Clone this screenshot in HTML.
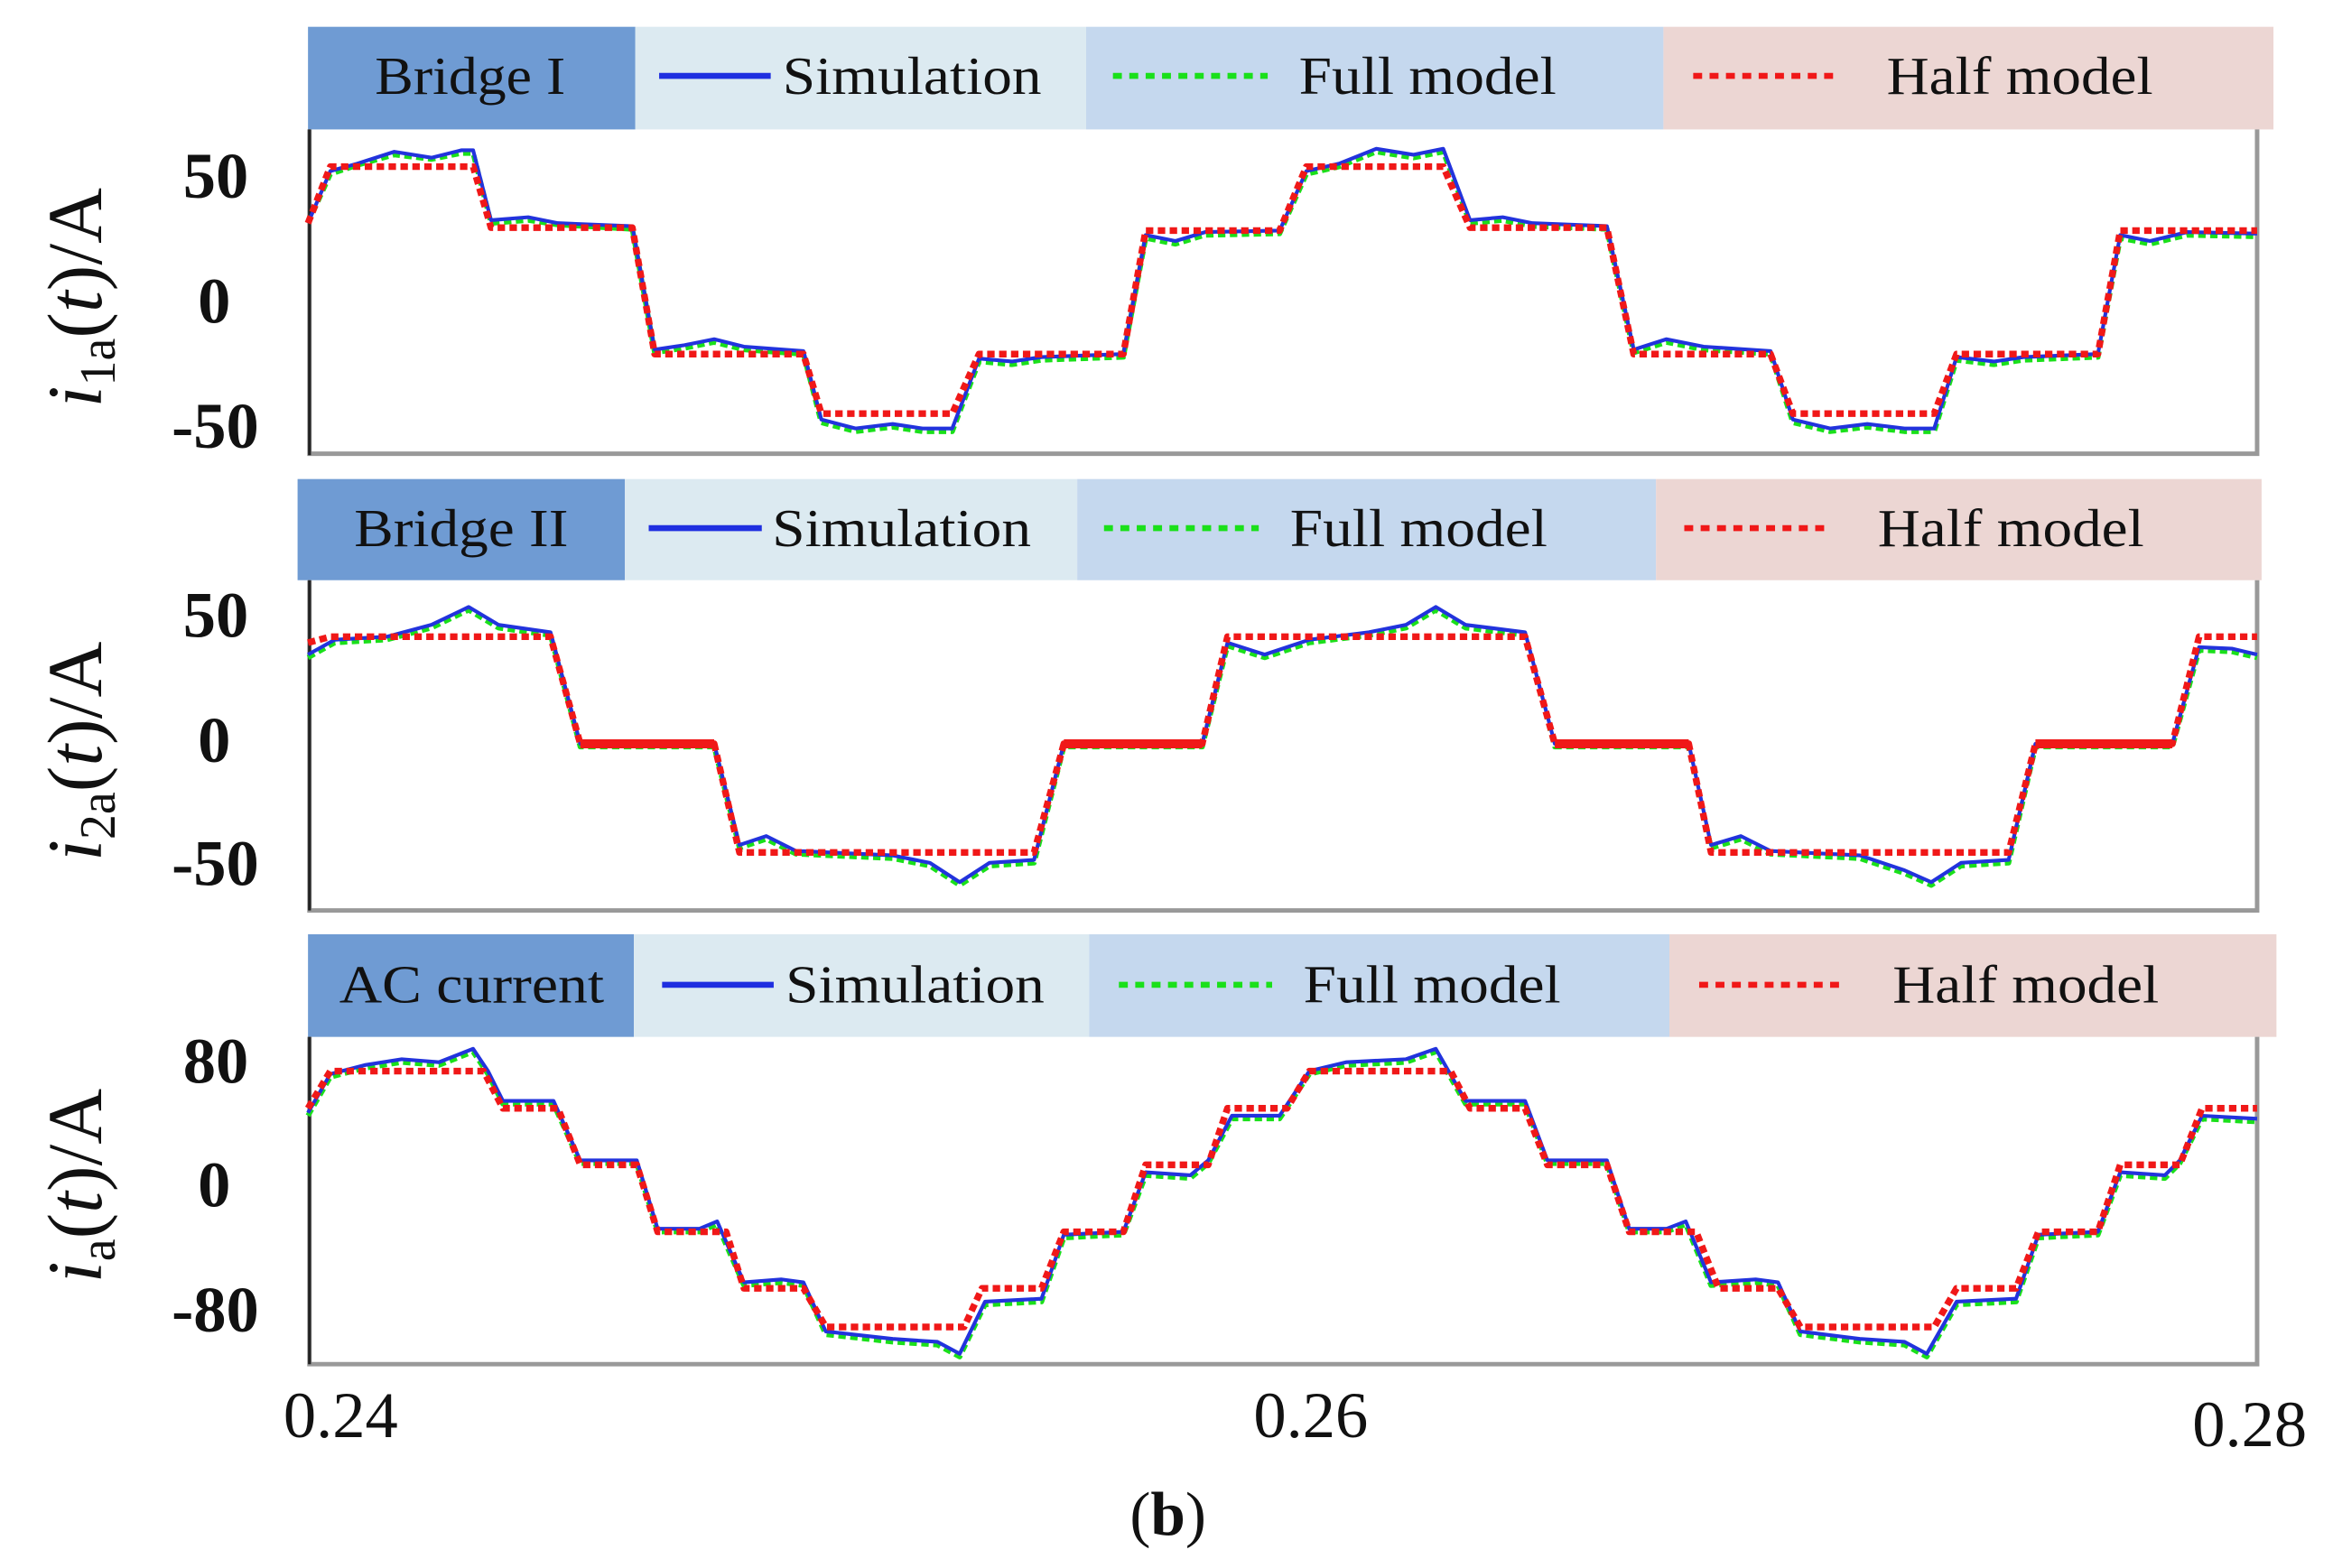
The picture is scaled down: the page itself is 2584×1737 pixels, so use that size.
<!DOCTYPE html>
<html><head><meta charset="utf-8"><style>
html,body{margin:0;padding:0;background:#fff;}
svg{display:block;}
text{font-family:"Liberation Serif",serif;fill:#111;}
.lg{font-size:36px;}
.tk{font-size:44px;}
</style></head><body>
<svg width="2584" height="1737" viewBox="0 0 1568 1054" xmlns="http://www.w3.org/2000/svg">
<rect width="1568" height="1054" fill="#fff"/>
<!-- Panel 1 legend -->
<rect x="207" y="18" width="220" height="69" fill="#6f9bd3"/>
<rect x="427" y="18" width="303" height="69" fill="#dceaf1"/>
<rect x="730" y="18" width="388" height="69" fill="#c5d8ee"/>
<rect x="1118" y="18" width="410" height="69" fill="#ecd6d3"/>
<text class="lg" x="252" y="63" textLength="128" lengthAdjust="spacingAndGlyphs">Bridge I</text>
<line x1="443" y1="51" x2="518" y2="51" stroke="#1f2fe0" stroke-width="4"/>
<text class="lg" x="526" y="63" textLength="174" lengthAdjust="spacingAndGlyphs">Simulation</text>
<line x1="748" y1="51" x2="852" y2="51" stroke="#1ae01a" stroke-width="4" stroke-dasharray="6,5"/>
<text class="lg" x="873" y="63" textLength="173" lengthAdjust="spacingAndGlyphs">Full model</text>
<line x1="1138" y1="51" x2="1234" y2="51" stroke="#f01818" stroke-width="4" stroke-dasharray="6,5"/>
<text class="lg" x="1268" y="63" textLength="179" lengthAdjust="spacingAndGlyphs">Half model</text>
<!-- Panel 2 legend -->
<rect x="200" y="322" width="220" height="68" fill="#6f9bd3"/>
<rect x="420" y="322" width="304" height="68" fill="#dceaf1"/>
<rect x="724" y="322" width="389" height="68" fill="#c5d8ee"/>
<rect x="1113" y="322" width="407" height="68" fill="#ecd6d3"/>
<text class="lg" x="238" y="367" textLength="144" lengthAdjust="spacingAndGlyphs">Bridge II</text>
<line x1="436" y1="355" x2="512" y2="355" stroke="#1f2fe0" stroke-width="4"/>
<text class="lg" x="519" y="367" textLength="174" lengthAdjust="spacingAndGlyphs">Simulation</text>
<line x1="742" y1="355" x2="846" y2="355" stroke="#1ae01a" stroke-width="4" stroke-dasharray="6,5"/>
<text class="lg" x="867" y="367" textLength="173" lengthAdjust="spacingAndGlyphs">Full model</text>
<line x1="1132" y1="355" x2="1228" y2="355" stroke="#f01818" stroke-width="4" stroke-dasharray="6,5"/>
<text class="lg" x="1262" y="367" textLength="179" lengthAdjust="spacingAndGlyphs">Half model</text>
<!-- Panel 3 legend -->
<rect x="207" y="628" width="219" height="69" fill="#6f9bd3"/>
<rect x="426" y="628" width="306" height="69" fill="#dceaf1"/>
<rect x="732" y="628" width="390" height="69" fill="#c5d8ee"/>
<rect x="1122" y="628" width="408" height="69" fill="#ecd6d3"/>
<text class="lg" x="228" y="674" textLength="178" lengthAdjust="spacingAndGlyphs">AC current</text>
<line x1="445" y1="662" x2="520" y2="662" stroke="#1f2fe0" stroke-width="4"/>
<text class="lg" x="528" y="674" textLength="174" lengthAdjust="spacingAndGlyphs">Simulation</text>
<line x1="752" y1="662" x2="855" y2="662" stroke="#1ae01a" stroke-width="4" stroke-dasharray="6,5"/>
<text class="lg" x="876" y="674" textLength="173" lengthAdjust="spacingAndGlyphs">Full model</text>
<line x1="1142" y1="662" x2="1238" y2="662" stroke="#f01818" stroke-width="4" stroke-dasharray="6,5"/>
<text class="lg" x="1272" y="674" textLength="179" lengthAdjust="spacingAndGlyphs">Half model</text>

<!-- Axes -->
<g fill="none">
<path d="M208,87 V305 H1517 V87" stroke="#999" stroke-width="3"/>
<line x1="208" y1="87" x2="208" y2="306" stroke="#222" stroke-width="2"/>
<path d="M208,390 V612 H1517 V390" stroke="#999" stroke-width="3"/>
<line x1="208" y1="390" x2="208" y2="612" stroke="#222" stroke-width="2"/>
<path d="M208,697 V917 H1517 V697" stroke="#999" stroke-width="3"/>
<line x1="208" y1="697" x2="208" y2="917" stroke="#222" stroke-width="2"/>
</g>

<!-- Panel 1 curves -->
<g fill="none" stroke-width="3.5" stroke-linejoin="round">
<polyline stroke="#1ae01a" stroke-dasharray="5,3" points="207,150 222,117 240,111 265,104 290,107 310,103 318,103 330,150 355,148 375,151 425,154 440,237 460,234 480,230 500,235 540,238 552,284 575,290 600,287 620,290 640,290 658,243 680,245 700,242 755,240 770,160 790,164 810,158 860,157 878,117 900,112 925,102 950,106 970,102 988,150 1010,148 1030,152 1080,154 1098,237 1120,230 1145,235 1190,238 1205,284 1230,290 1255,287 1280,290 1300,290 1315,242 1340,245 1360,242 1410,240 1425,160 1445,164 1470,158 1517,159"/>
<polyline stroke="#2233dd" stroke-width="2.5" points="207,150 222,115 240,110 265,102 290,106 310,101 318,101 330,148 355,146 375,150 425,152 440,235 460,232 480,228 500,233 540,236 552,282 575,288 600,285 620,288 640,288 658,241 680,243 700,240 755,238 770,158 790,162 810,156 860,155 878,115 900,110 925,100 950,104 970,100 988,148 1010,146 1030,150 1080,152 1098,235 1120,228 1145,233 1190,236 1205,282 1230,288 1255,285 1280,288 1300,288 1315,240 1340,243 1360,240 1410,238 1425,158 1445,162 1470,156 1517,157"/>
<polyline stroke="#f01818" stroke-width="4.5" stroke-dasharray="5,3" points="207,150 222,112 318,112 330,153 425,153 440,238 540,238 552,278 640,278 658,238 755,238 770,155 860,155 878,112 970,112 988,153 1080,153 1098,238 1190,238 1205,278 1300,278 1315,238 1410,238 1425,155 1517,155"/>
</g>
<!-- Panel 2 curves -->
<g fill="none" stroke-width="3.5" stroke-linejoin="round">
<polyline stroke="#1ae01a" stroke-dasharray="5,3" points="207,442 225,432 260,430 290,422 315,410 335,422 370,427 390,502 480,502 497,570 515,564 535,574 600,577 625,582 645,595 665,582 695,580 715,502 808,502 825,434 850,442 880,432 920,427 945,422 965,410 985,422 1025,427 1045,502 1135,502 1150,570 1170,564 1190,574 1250,577 1280,587 1298,595 1318,582 1350,580 1368,502 1460,502 1478,437 1500,438 1517,442"/>
<polyline stroke="#2233dd" stroke-width="2.5" points="207,440 225,430 260,428 290,420 315,408 335,420 370,425 390,500 480,500 497,568 515,562 535,572 600,575 625,580 645,593 665,580 695,578 715,500 808,500 825,432 850,440 880,430 920,425 945,420 965,408 985,420 1025,425 1045,500 1135,500 1150,568 1170,562 1190,572 1250,575 1280,585 1298,593 1318,580 1350,578 1368,500 1460,500 1478,435 1500,436 1517,440"/>
<polyline stroke="#f01818" stroke-width="4.5" stroke-dasharray="5,3" points="207,432 222,428 370,428 390,500 480,500 497,573 695,573 715,500 808,500 825,428 1025,428 1045,500 1135,500 1150,573 1350,573 1368,500 1460,500 1478,428 1517,428"/>
<g stroke="#f01818" stroke-width="6"><line x1="390" y1="500" x2="480" y2="500"/><line x1="715" y1="500" x2="808" y2="500"/><line x1="1045" y1="500" x2="1135" y2="500"/><line x1="1368" y1="500" x2="1460" y2="500"/></g>
</g>
<!-- Panel 3 curves -->
<g fill="none" stroke-width="3.5" stroke-linejoin="round">
<polyline stroke="#1ae01a" stroke-dasharray="5,3" points="207,750 222,724 245,718 270,714 295,716 318,707 328,722 338,742 372,742 390,782 428,782 442,828 470,828 482,823 500,864 525,862 540,864 555,897 600,902 630,904 645,912 662,877 700,875 715,832 755,830 770,790 800,792 812,782 828,752 860,752 880,722 905,716 945,714 965,707 985,742 1025,742 1040,782 1080,782 1095,828 1120,828 1133,823 1150,864 1180,862 1195,864 1210,897 1250,902 1280,904 1295,912 1315,877 1355,875 1370,832 1410,830 1425,790 1455,792 1465,782 1480,752 1517,754"/>
<polyline stroke="#2233dd" stroke-width="2.5" points="207,748 222,722 245,716 270,712 295,714 318,705 328,720 338,740 372,740 390,780 428,780 442,826 470,826 482,821 500,862 525,860 540,862 555,895 600,900 630,902 645,910 662,875 700,873 715,830 755,828 770,788 800,790 812,780 828,750 860,750 880,720 905,714 945,712 965,705 985,740 1025,740 1040,780 1080,780 1095,826 1120,826 1133,821 1150,862 1180,860 1195,862 1210,895 1250,900 1280,902 1295,910 1315,875 1355,873 1370,830 1410,828 1425,788 1455,790 1465,780 1480,750 1517,752"/>
<polyline stroke="#f01818" stroke-width="4.5" stroke-dasharray="5,3" points="207,745 222,720 325,720 338,745 375,745 390,783 428,783 442,828 488,828 500,866 540,866 555,892 648,892 660,866 700,866 715,828 755,828 770,783 812,783 825,745 865,745 880,720 975,720 988,745 1025,745 1040,783 1080,783 1095,828 1140,828 1155,866 1195,866 1210,892 1300,892 1315,866 1355,866 1370,828 1410,828 1425,783 1465,783 1480,745 1517,745"/>
</g>

<!-- Tick labels -->
<g font-weight="bold" text-anchor="end">
<text class="tk" x="167" y="133">50</text>
<text class="tk" x="155" y="217">0</text>
<text class="tk" x="174" y="301">-50</text>
<text class="tk" x="167" y="428">50</text>
<text class="tk" x="155" y="512">0</text>
<text class="tk" x="174" y="595">-50</text>
<text class="tk" x="167" y="728">80</text>
<text class="tk" x="155" y="811">0</text>
<text class="tk" x="174" y="895">-80</text>
</g>
<text class="tk" x="229" y="966" text-anchor="middle">0.24</text>
<text class="tk" x="881" y="966" text-anchor="middle">0.26</text>
<text class="tk" x="1512" y="972" text-anchor="middle">0.28</text>
<text x="785" y="1032" text-anchor="middle" style="font-size:42px">(<tspan font-weight="bold">b</tspan>)</text>

<!-- Y axis labels -->
<text transform="translate(68,200) rotate(-90)" text-anchor="middle" style="font-size:52px"><tspan font-style="italic">i</tspan><tspan font-size="34" dy="9">1a</tspan><tspan dy="-9">(</tspan><tspan font-style="italic">t</tspan>)/A</text>
<text transform="translate(68,505) rotate(-90)" text-anchor="middle" style="font-size:52px"><tspan font-style="italic">i</tspan><tspan font-size="34" dy="9">2a</tspan><tspan dy="-9">(</tspan><tspan font-style="italic">t</tspan>)/A</text>
<text transform="translate(68,797) rotate(-90)" text-anchor="middle" style="font-size:52px"><tspan font-style="italic">i</tspan><tspan font-size="34" dy="9">a</tspan><tspan dy="-9">(</tspan><tspan font-style="italic">t</tspan>)/A</text>
</svg>
</body></html>
